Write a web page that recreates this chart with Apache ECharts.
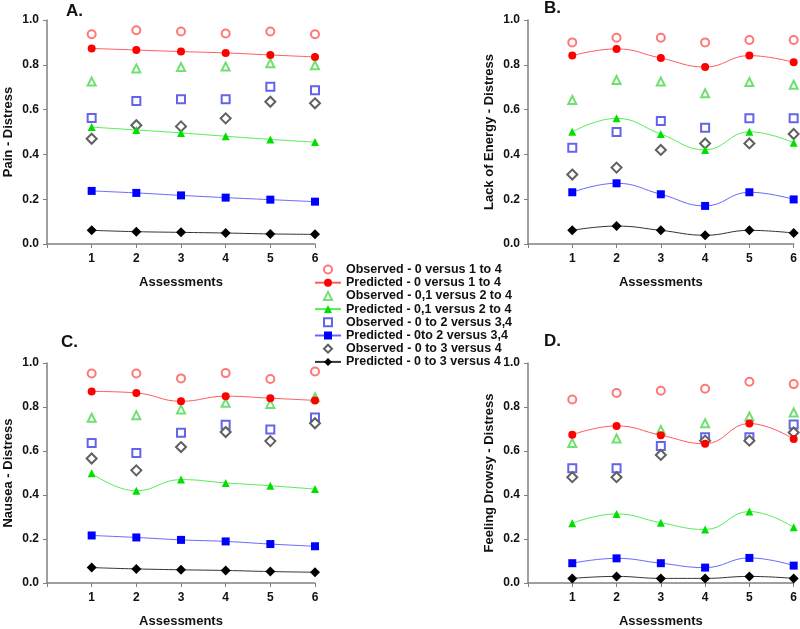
<!DOCTYPE html>
<html>
<head>
<meta charset="utf-8">
<script src="https://cdn.jsdelivr.net/npm/echarts@6/dist/echarts.min.js"></script>
<style>
  html, body { margin: 0; padding: 0; background: #fff; }
  #chart { width: 800px; height: 629px; }
</style>
</head>
<body>
<div id="chart"></div>
<script>
// x categories (assessment number)
const assessments = [1, 2, 3, 4, 5, 6]
const yTicks = [0, 0.2, 0.4, 0.6, 0.8, 1.0]

const seriesNames = [
  'Observed - 0 versus 1 to 4',
  'Predicted - 0 versus 1 to 4',
  'Observed - 0,1 versus 2 to 4',
  'Predicted - 0,1 versus 2 to 4',
  'Observed - 0 to 2 versus 3,4',
  'Predicted - 0to 2 versus 3,4',
  'Observed - 0 to 3 versus 4',
  'Predicted - 0 to 3 versus 4'
]

const panelTitles = ['A.', 'B.', 'C.', 'D.']
const panelYNames = ['Pain - Distress', 'Lack of Energy - Distress', 'Nausea - Distress', 'Feeling Drowsy - Distress']

// A. Pain
const painObs0 = [0.936, 0.954, 0.949, 0.940, 0.949, 0.936]
const painPred0 = [0.873, 0.866, 0.859, 0.853, 0.844, 0.835]
const painObs01 = [0.725, 0.784, 0.790, 0.792, 0.807, 0.798]
const painPred01 = [0.522, 0.509, 0.496, 0.481, 0.467, 0.455]
const painObs02 = [0.563, 0.638, 0.646, 0.646, 0.702, 0.686]
const painPred02 = [0.237, 0.228, 0.217, 0.207, 0.198, 0.189]
const painObs03 = [0.470, 0.530, 0.525, 0.561, 0.635, 0.628]
const painPred03 = [0.061, 0.055, 0.052, 0.049, 0.045, 0.043]

// B. Lack of energy
const energyObs0 = [0.900, 0.921, 0.921, 0.900, 0.911, 0.911]
const energyPred0 = [0.841, 0.871, 0.830, 0.790, 0.841, 0.811]
const energyObs01 = [0.643, 0.732, 0.725, 0.673, 0.723, 0.711]
const energyPred01 = [0.501, 0.561, 0.491, 0.420, 0.501, 0.452]
const energyObs02 = [0.430, 0.500, 0.549, 0.519, 0.561, 0.561]
const energyPred02 = [0.231, 0.271, 0.222, 0.170, 0.231, 0.199]
const energyObs03 = [0.310, 0.341, 0.420, 0.449, 0.449, 0.491]
const energyPred03 = [0.061, 0.080, 0.061, 0.039, 0.061, 0.049]

// C. Nausea
const nauseaObs0 = [0.952, 0.952, 0.930, 0.954, 0.927, 0.961]
const nauseaPred0 = [0.871, 0.864, 0.826, 0.849, 0.840, 0.830]
const nauseaObs01 = [0.751, 0.763, 0.789, 0.819, 0.814, 0.844]
const nauseaPred01 = [0.499, 0.419, 0.470, 0.455, 0.442, 0.427]
const nauseaObs02 = [0.636, 0.591, 0.683, 0.719, 0.698, 0.752]
const nauseaPred02 = [0.216, 0.207, 0.196, 0.189, 0.177, 0.167]
const nauseaObs03 = [0.566, 0.512, 0.618, 0.686, 0.645, 0.726]
const nauseaPred03 = [0.070, 0.064, 0.060, 0.057, 0.052, 0.049]

// D. Feeling drowsy
const drowsyObs0 = [0.834, 0.864, 0.874, 0.883, 0.915, 0.904]
const drowsyPred0 = [0.674, 0.714, 0.672, 0.633, 0.725, 0.654]
const drowsyObs01 = [0.636, 0.657, 0.696, 0.726, 0.757, 0.775]
const drowsyPred01 = [0.272, 0.314, 0.274, 0.243, 0.325, 0.253]
const drowsyObs02 = [0.522, 0.522, 0.623, 0.662, 0.662, 0.720]
const drowsyPred02 = [0.090, 0.112, 0.090, 0.070, 0.114, 0.079]
const drowsyObs03 = [0.481, 0.481, 0.582, 0.647, 0.647, 0.684]
const drowsyPred03 = [0.021, 0.030, 0.021, 0.021, 0.030, 0.021]

const panelData = [
  [painObs0, painPred0, painObs01, painPred01, painObs02, painPred02, painObs03, painPred03],
  [energyObs0, energyPred0, energyObs01, energyPred01, energyObs02, energyPred02, energyObs03, energyPred03],
  [nauseaObs0, nauseaPred0, nauseaObs01, nauseaPred01, nauseaObs02, nauseaPred02, nauseaObs03, nauseaPred03],
  [drowsyObs0, drowsyPred0, drowsyObs01, drowsyPred01, drowsyObs02, drowsyPred02, drowsyObs03, drowsyPred03]
]

// marker / line look for each of the 8 series (observed ones have no line)
const looks = [
  { symbol: 'emptyCircle', size: 8, color: '#ff7878' },
  { symbol: 'circle', size: 8, color: '#ff0000', line: '#ff5c5c' },
  { symbol: 'emptyTriangle', size: 8, color: '#70e070' },
  { symbol: 'triangle', size: 8, color: '#00e000', line: '#55ee55' },
  { symbol: 'emptyRect', size: 8, color: '#6464e8' },
  { symbol: 'rect', size: 8, color: '#0000ff', line: '#6868ff' },
  { symbol: 'emptyDiamond', size: 10, color: '#606060' },
  { symbol: 'diamond', size: 10, color: '#000000', line: '#333333' }
]

const FONT = '"Liberation Sans", Arial, sans-serif'
const AXIS_GRAY = '#808080'

const grids = [
  { left: 47, top: 20, width: 268, height: 224 },
  { left: 528, top: 20, width: 268, height: 224 },
  { left: 47, top: 363, width: 268, height: 223 },
  { left: 528, top: 363, width: 268, height: 223 }
]
const titlePos = [
  { left: 66, top: 3 },
  { left: 544, top: 0 },
  { left: 61, top: 334 },
  { left: 544, top: 333 }
]

const xAxes = grids.map((g, i) => ({
  gridIndex: i,
  type: 'value',
  min: 0,
  max: 6,
  interval: 1,
  name: 'Assessments',
  nameLocation: 'middle',
  nameGap: 32,
  nameTextStyle: { fontFamily: FONT, fontWeight: 'bold', fontSize: 13, color: '#111' },
  axisLine: { lineStyle: { color: AXIS_GRAY, width: 1.5 } },
  axisTick: { length: 4, lineStyle: { color: AXIS_GRAY } },
  axisLabel: {
    margin: 9,
    fontFamily: FONT, fontWeight: 'bold', fontSize: 12, color: '#111',
    formatter: v => (assessments.includes(v) ? String(v) : '')
  },
  splitLine: { show: false }
}))

const yAxes = grids.map((g, i) => ({
  gridIndex: i,
  type: 'value',
  min: yTicks[0],
  max: yTicks[yTicks.length - 1],
  interval: 0.2,
  name: panelYNames[i],
  nameLocation: 'middle',
  nameGap: 32,
  nameTextStyle: { fontFamily: FONT, fontWeight: 'bold', fontSize: 13, color: '#111' },
  axisLine: { show: true, lineStyle: { color: AXIS_GRAY, width: 1.5 } },
  axisTick: { show: true, length: 4, lineStyle: { color: AXIS_GRAY } },
  axisLabel: {
    margin: 8,
    fontFamily: FONT, fontWeight: 'bold', fontSize: 12, color: '#111',
    formatter: v => v.toFixed(1)
  },
  splitLine: { show: false }
}))

const series = []
panelData.forEach((arrs, p) => {
  arrs.forEach((vals, k) => {
    const look = looks[k]
    const predicted = !!look.line
    series.push({
      name: seriesNames[k],
      type: 'line',
      xAxisIndex: p,
      yAxisIndex: p,
      data: vals.map((v, j) => [assessments[j], v]),
      smooth: predicted ? 0.45 : false,
      symbol: look.symbol,
      symbolSize: look.size,
      showAllSymbol: true,
      itemStyle: { color: look.color, borderWidth: 1 },
      lineStyle: predicted
        ? { color: look.line, width: 1 }
        : { color: look.color, width: 1, opacity: 0 },
      z: predicted ? 3 : 2
    })
  })
})

const chart = echarts.init(document.getElementById('chart'), null, { renderer: 'canvas' })
chart.setOption({
  animation: false,
  backgroundColor: '#fff',
  title: panelTitles.map((t, i) => ({
    text: t,
    left: titlePos[i].left,
    top: titlePos[i].top,
    padding: 0,
    textStyle: { fontFamily: FONT, fontWeight: 'bold', fontSize: 17, color: '#111' }
  })),
  legend: {
    orient: 'vertical',
    left: 314,
    top: 263,
    itemWidth: 26,
    itemHeight: 10,
    itemGap: 0.2,
    padding: 0,
    data: seriesNames,
    textStyle: { fontFamily: FONT, fontWeight: 'bold', fontSize: 12.5, color: '#111' }
  },
  grid: grids,
  xAxis: xAxes,
  yAxis: yAxes,
  series
})
</script>
</body>
</html>
